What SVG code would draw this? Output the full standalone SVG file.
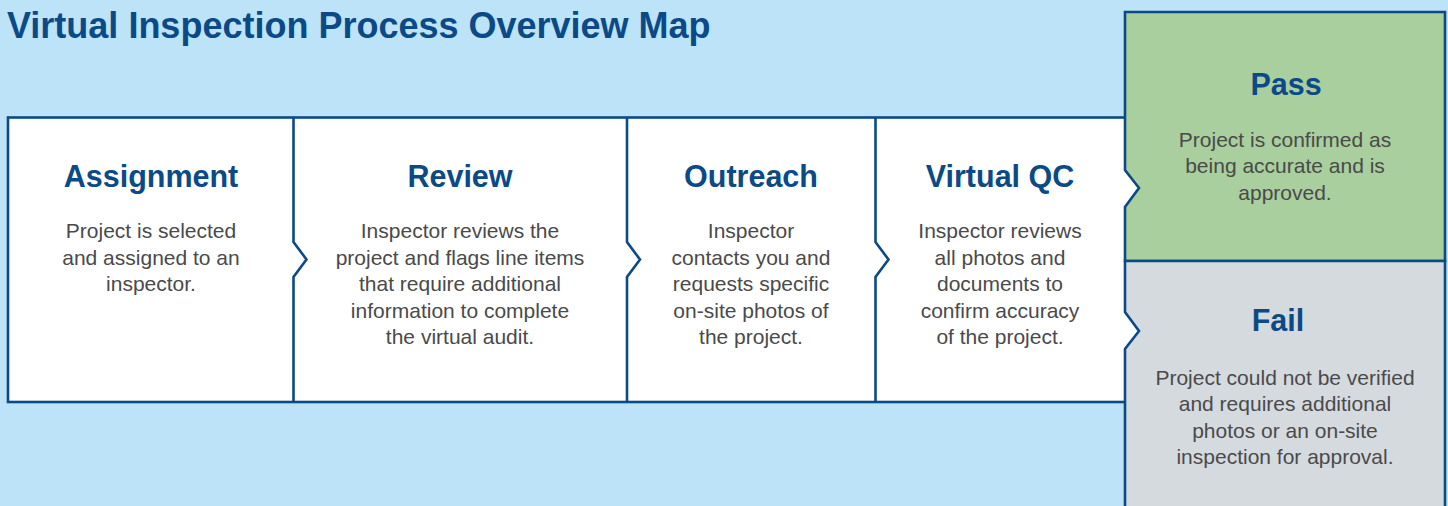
<svg xmlns="http://www.w3.org/2000/svg" width="1448" height="506" viewBox="0 0 1448 506">
<style>
.ln{stroke:#0b4a86;stroke-width:2.6;stroke-linejoin:miter}
.nf{fill:none}
.w{fill:#ffffff}
.g{fill:#a8cf9d}
.gr{fill:#d5dadf}
.h{font-family:"Liberation Sans",Arial,sans-serif;font-weight:bold;font-size:30.5px;fill:#0b4a86;text-anchor:middle}
.b{font-family:"Liberation Sans",Arial,sans-serif;font-size:21px;fill:#4a4a4a;text-anchor:middle}
.t{font-family:"Liberation Sans",Arial,sans-serif;font-weight:bold;font-size:36px;fill:#0b4a86}
</style>
<rect width="1448" height="506" fill="#bde3f8"/>
<text class="t" x="7" y="38">Virtual Inspection Process Overview Map</text>
<rect x="8" y="117.5" width="1137" height="284.5" class="ln w"/>
<g id="assignment">
<text class="h" x="151" y="187">Assignment</text>
<text class="b" x="151" y="238">Project is selected</text>
<text class="b" x="151" y="265">and assigned to an</text>
<text class="b" x="151" y="291">inspector.</text>
</g>
<g id="review">
<text class="h" x="460" y="187">Review</text>
<text class="b" x="460" y="238">Inspector reviews the</text>
<text class="b" x="460" y="265">project and flags line items</text>
<text class="b" x="460" y="291">that require additional</text>
<text class="b" x="460" y="318">information to complete</text>
<text class="b" x="460" y="344">the virtual audit.</text>
</g>
<g id="outreach">
<text class="h" x="751" y="187">Outreach</text>
<text class="b" x="751" y="238">Inspector</text>
<text class="b" x="751" y="265">contacts you and</text>
<text class="b" x="751" y="291">requests specific</text>
<text class="b" x="751" y="318">on-site photos of</text>
<text class="b" x="751" y="344">the project.</text>
</g>
<g id="virtual-qc">
<text class="h" x="1000" y="187">Virtual QC</text>
<text class="b" x="1000" y="238">Inspector reviews</text>
<text class="b" x="1000" y="265">all photos and</text>
<text class="b" x="1000" y="291">documents to</text>
<text class="b" x="1000" y="318">confirm accuracy</text>
<text class="b" x="1000" y="344">of the project.</text>
</g>
<g id="pass">
<path d="M1125,12 H1445 V261 H1125 V207 L1139,188 L1125,170 Z" class="ln g"/>
<text class="h" x="1286" y="95">Pass</text>
<text class="b" x="1285" y="147">Project is confirmed as</text>
<text class="b" x="1285" y="173">being accurate and is</text>
<text class="b" x="1285" y="200">approved.</text>
</g>
<g id="fail">
<path d="M1125,261 H1445 V512 H1125 V349 L1139,331 L1125,312 Z" class="ln gr"/>
<text class="h" x="1278" y="331">Fail</text>
<text class="b" x="1285" y="385">Project could not be verified</text>
<text class="b" x="1285" y="411">and requires additional</text>
<text class="b" x="1285" y="438">photos or an on-site</text>
<text class="b" x="1285" y="464">inspection for approval.</text>
</g>
<g id="connectors">
<path class="ln nf" d="M293.5,117.5 V242 L306.5,259.5 L293.5,277 V402"/>
<path class="ln nf" d="M627,117.5 V242 L640,259.5 L627,277 V402"/>
<path class="ln nf" d="M875.5,117.5 V242 L888.5,259.5 L875.5,277 V402"/>
</g>
</svg>
